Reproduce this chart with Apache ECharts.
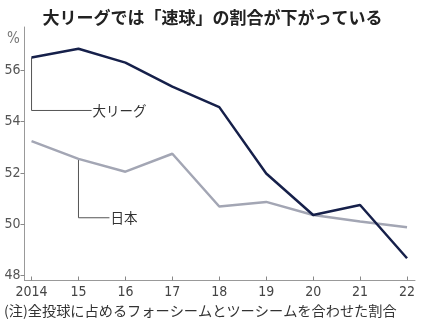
<!DOCTYPE html>
<html><head><meta charset="utf-8">
<script src="https://cdn.jsdelivr.net/npm/echarts@6/dist/echarts.min.js"></script>
<style>html,body{margin:0;padding:0;background:#fff}#c{width:425px;height:325px}</style>
</head><body><div id="c"></div>
<script>
const years = [2014, 2015, 2016, 2017, 2018, 2019, 2020, 2021, 2022];
const mlb = [56.51, 56.85, 56.31, 55.37, 54.57, 51.98, 50.36, 50.75, 48.67];
const japan = [53.24, 52.55, 52.05, 52.75, 50.69, 50.87, 50.36, 50.1, 49.88];
const yTicks = [48, 50, 52, 54, 56];
const title = '大リーグでは「速球」の割合が下がっている';
const note = '(注)全投球に占めるフォーシームとツーシームを合わせた割合';
const mlbLabel = '大リーグ';
const japanLabel = '日本';
// leader lines: [year index of anchor, bend y value, end x value]
const mlbLeader = [0, 54.44, 2015.28];
const japanLeader = [1, 50.25, 2015.66];

const numFont = '"DejaVu Sans Condensed","Liberation Sans Narrow",sans-serif';
const cjk = '"Noto Sans CJK JP","Noto Sans",sans-serif';

function leader(series, spec, text, name) {
  const x0 = years[spec[0]];
  const y0 = series[spec[0]];
  return {
    type: 'line', name: name, silent: true, symbol: 'none', z: 1,
    lineStyle: { color: '#555', width: 1 },
    endLabel: { show: true, distance: 1, formatter: text,
      color: '#333', fontSize: 13.5, fontFamily: cjk },
    data: [[x0, y0], [x0, spec[1]], [spec[2], spec[1]]]
  };
}

const chart = echarts.init(document.getElementById('c'), null, { renderer: 'canvas' });
chart.setOption({
  animation: false,
  backgroundColor: '#fff',
  title: { text: title, left: 'center', top: 4,
    textStyle: { fontSize: 17, fontWeight: 'bold', color: '#222', fontFamily: cjk } },
  graphic: [
    { type: 'text', left: 7, top: 32, style: { text: '%', fontSize: 15, fill: '#777', fontFamily: numFont } },
    { type: 'text', left: 4, top: 304, style: { text: note, fontSize: 14.2, fill: '#333', fontFamily: cjk } }
  ],
  grid: { left: 24.5, right: 10, top: 27, bottom: 44.5 },
  xAxis: {
    type: 'value', min: 2013.85, max: 2022.17,
    axisLine: { show: true, lineStyle: { color: '#999', width: 1 } },
    axisTick: { show: true, inside: true, length: 4, lineStyle: { color: '#888' }, customValues: years },
    axisLabel: { customValues: years, color: '#444', fontSize: 14, fontFamily: numFont, margin: 5,
      formatter: v => (v === years[0] ? String(v) : String(v % 100)) },
    splitLine: { show: false }
  },
  yAxis: {
    type: 'value', min: 47.8, max: 57.7,
    axisLine: { show: true, lineStyle: { color: '#999', width: 1 } },
    axisTick: { show: true, length: 4, lineStyle: { color: '#888' }, customValues: yTicks },
    axisLabel: { customValues: yTicks, color: '#555', fontSize: 14, fontFamily: numFont, margin: 4 },
    splitLine: { show: false }
  },
  series: [
    leader(mlb, mlbLeader, mlbLabel, 'mlbLeader'),
    leader(japan, japanLeader, japanLabel, 'japanLeader'),
    { type: 'line', name: japanLabel, symbol: 'none', z: 2,
      lineStyle: { color: '#a3a6b4', width: 2.5 },
      data: years.map((y, i) => [y, japan[i]]) },
    { type: 'line', name: mlbLabel, symbol: 'none', z: 3,
      lineStyle: { color: '#16204a', width: 2.5 },
      data: years.map((y, i) => [y, mlb[i]]) }
  ]
});
</script></body></html>
